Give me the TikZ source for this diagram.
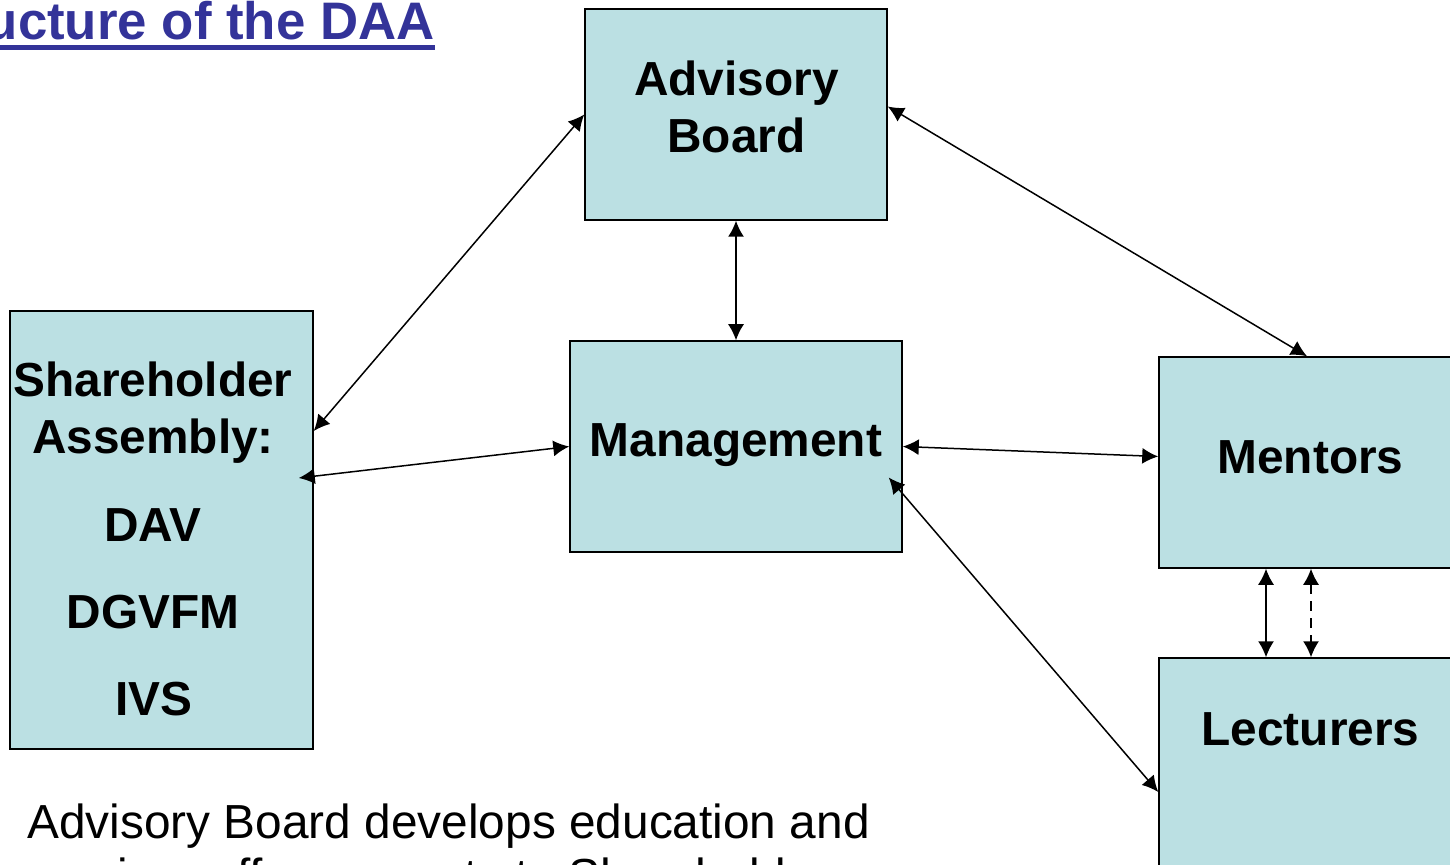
\documentclass[tikz,border=0pt]{standalone}
\usepackage{fontspec}
\setmainfont{Liberation Sans}
\usetikzlibrary{arrows.meta,calc}
\definecolor{boxfill}{RGB}{187,224,227}
\definecolor{titleblue}{RGB}{51,51,153}
\begin{document}
\begin{tikzpicture}[x=0.5pt,y=-0.5pt,
 box/.style={draw=black, line width=0.75pt, fill=boxfill, inner sep=0pt},
 lbl/.style={anchor=base, inner sep=0pt, font=\fontsize{23.9pt}{28pt}\selectfont\bfseries},
 bodytext/.style={anchor=base west, inner sep=0pt, font=\fontsize{23.9pt}{27pt}\selectfont},
 tip/.tip={Latex[length=8pt,width=8pt]},
 link/.style={line width=0.75pt, tip-tip},
]
\useasboundingbox (0,0) rectangle (1450,865);

% boxes
\node[box, minimum width=151pt, minimum height=105.5pt] (adv) at (736,114.5) {};
\node[box, minimum width=151.5pt, minimum height=219pt] (sh) at (161.5,530) {};
\node[box, minimum width=166pt, minimum height=105.5pt] (mg) at (736,446.5) {};
\node[box, minimum width=151pt, minimum height=105.5pt] (men) at (1310,462.5) {};
\node[box, minimum width=151pt, minimum height=130pt] (lec) at (1310,788) {};

% box texts
\node[lbl] (advt1) at (736.5,96) {Advisory};
\node[lbl] (advt2) at (736.5,153) {Board};
\node[lbl] (sht1) at (153,397) {Shareholder};
\node[lbl] (sht2) at (153,454) {Assembly:};
\node[lbl] (sht3) at (153,542) {DAV};
\node[lbl] (sht4) at (153,628) {DGVFM};
\node[lbl] (sht5) at (154,715) {IVS};
\node[lbl] (mgt) at (736,457) {Management};
\node[lbl] (ment) at (1310.5,474) {Mentors};
\node[lbl] (lect) at (1310.5,745) {Lecturers};

% title
\node[anchor=base east, inner sep=0pt, text=titleblue, font=\fontsize{26.4pt}{30pt}\selectfont\bfseries] (title) at (435,40) {Structure of the DAA};
\draw[titleblue, line width=2.5pt] ($(title.base west)+(0,7.5)$) -- ($(title.base east)+(0,7.5)$);

% body text
\node[bodytext] (body1) at (27,838) {Advisory Board develops education and};
\node[bodytext] (body2) at (27,892) {seminar offer presents to Shareholders};

% connectors
\draw[link] (adv.west) -- ($(sh.east)+(0,-99)$);
\draw[link] (adv.south) -- (mg.north);
\draw[link] ($(adv.east)+(0,-8)$) -- ($(men.north)+(-3,0)$);
\draw[link] ($(sh.east)+(-15,-52)$) -- (mg.west);
\draw[link] (mg.east) -- ($(men.west)+(0,-6)$);
\draw[link] ($(mg.east)+(-14,31)$) -- ($(lec.west)+(0,4)$);
\draw[link] ($(men.south)+(-44,0)$) -- ($(lec.north)+(-44,0)$);
\draw[link, dash pattern=on 5pt off 3.5pt] ($(men.south)+(1,0)$) -- ($(lec.north)+(1,0)$);
\end{tikzpicture}
\end{document}
